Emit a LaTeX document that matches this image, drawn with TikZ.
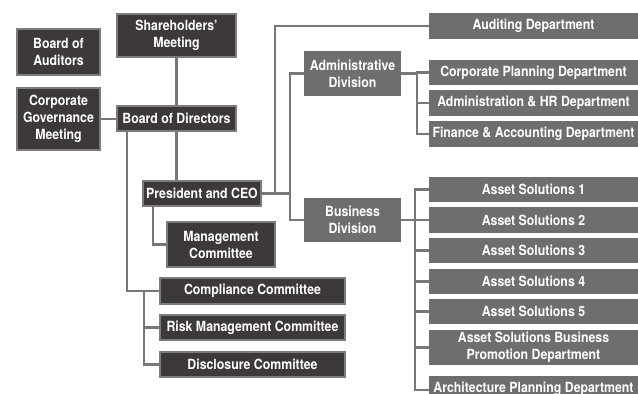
\documentclass[tikz,border=0pt]{standalone}
\usepackage{fontspec}
\newfontfamily\orgfont{TeX Gyre Heros}[FakeStretch=0.88]
\definecolor{darkbox}{HTML}{3D3938}
\definecolor{boxborder}{HTML}{7C7C7C}
\definecolor{greybox}{HTML}{6E6E6E}
\definecolor{linegrey}{HTML}{787878}
\tikzset{
  base/.style={inner sep=0pt, outer sep=0pt, align=center, text=white,
    font=\orgfont\bfseries\fontsize{14}{17}\selectfont},
  darkb/.style={base, fill=darkbox, draw=boxborder, line width=2pt},
  greyb/.style={base, fill=greybox},
  conn/.style={draw=linegrey, line width=2.8pt}
}
\begin{document}
\begin{tikzpicture}[x=1pt,y=-1pt]
\useasboundingbox (0,0) rectangle (638,394);
\clip (0,0) rectangle (638,394);
% dark boxes
\node[darkb, minimum width=83pt, minimum height=46pt] (aud) at (58.5,52) {Board of\\Auditors};
\node[darkb, minimum width=83pt, minimum height=62pt] (cgm) at (58.5,119) {Corporate\\Governance\\Meeting};
\node[darkb, minimum width=119pt, minimum height=43pt] (shm) at (176.5,35.5) {Shareholders’\\Meeting};
\node[darkb, minimum width=119pt, minimum height=25pt] (bod) at (176.5,118.5) {Board of Directors};
\node[darkb, minimum width=118pt, minimum height=25pt] (ceo) at (202,193.5) {President and CEO};
\node[darkb, minimum width=108pt, minimum height=45pt] (mc) at (221,244.5) {Management\\Committee};
\node[darkb, minimum width=185pt, minimum height=26pt] (cc) at (252.5,291) {Compliance Committee};
\node[darkb, minimum width=185pt, minimum height=25pt] (rmc) at (252.5,327.5) {Risk Management Committee};
\node[darkb, minimum width=185pt, minimum height=25pt] (dc) at (252.5,364.5) {Disclosure Committee};
% grey boxes
\node[greyb, minimum width=209pt, minimum height=26pt] (audd) at (533.5,26) {Auditing Department};
\node[greyb, minimum width=97pt, minimum height=45pt] (adm) at (352.5,73.5) {Administrative\\Division};
\node[greyb, minimum width=97pt, minimum height=44pt] (bus) at (352.5,220) {Business\\Division};
\node[greyb, minimum width=209pt, minimum height=25pt] (cpd) at (533.5,72.5) {Corporate Planning Department};
\node[greyb, minimum width=209pt, minimum height=26pt] (ahr) at (533.5,103) {Administration \& HR Department};
\node[greyb, minimum width=209pt, minimum height=26pt] (fad) at (533.5,134) {Finance \& Accounting Department};
\node[greyb, minimum width=209pt, minimum height=25pt] (as1) at (533.5,189.5) {Asset Solutions 1};
\node[greyb, minimum width=209pt, minimum height=26pt] (as2) at (533.5,220) {Asset Solutions 2};
\node[greyb, minimum width=209pt, minimum height=25pt] (as3) at (533.5,250.5) {Asset Solutions 3};
\node[greyb, minimum width=209pt, minimum height=25pt] (as4) at (533.5,281.5) {Asset Solutions 4};
\node[greyb, minimum width=209pt, minimum height=25pt] (as5) at (533.5,311.5) {Asset Solutions 5};
\node[greyb, minimum width=209pt, minimum height=35pt] (asb) at (533.5,347.5) {Asset Solutions Business\\Promotion Department};
\node[greyb, minimum width=209pt, minimum height=26pt] (apd) at (533.5,389) {Architecture Planning Department};
% connectors
\draw[conn] (shm.south) -- (bod.north);
\draw[conn] (cgm.east) -- (cgm.east -| bod.west);
\draw[conn] (bod.south) -- (bod.south |- ceo.north);
\draw[conn] ([xshift=10pt]bod.south west) |- (cc.west);
\draw[conn] ([xshift=-16pt]cc.west) |- (dc.west);
\draw[conn] ([xshift=-16pt]rmc.west) -- (rmc.west);
\draw[conn] ([xshift=10pt]ceo.south west) |- (mc.west);
\draw[conn] (ceo.east) -- ([xshift=-14pt]ceo.east -| adm.west);
\draw[conn] ([xshift=14pt]ceo.east) |- (audd.west);
\draw[conn] (adm.west) -- ++(-14,0) |- (bus.west);
\draw[conn] (adm.east) -- ++(16,0);
\draw[conn] (cpd.west) -- ++(-12,0) |- (fad.west);
\draw[conn] ([xshift=-12pt]ahr.west) -- (ahr.west);
\draw[conn] (bus.east) -- ++(15,0);
\draw[conn] (as1.west) -- ++(-14,0) |- ([yshift=-1pt]apd.west);
\foreach \n in {as2,as3,as4,as5,asb}
  \draw[conn] ([xshift=-14pt]\n.west) -- (\n.west);
\end{tikzpicture}
\end{document}
